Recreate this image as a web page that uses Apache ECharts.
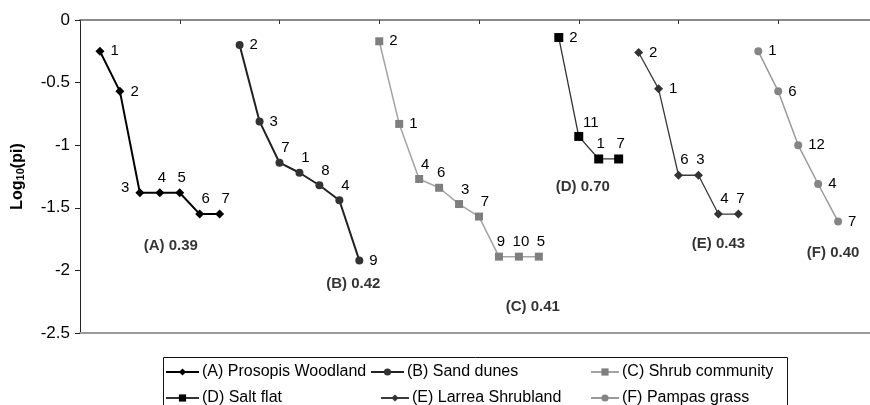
<!DOCTYPE html>
<html>
<head>
<meta charset="utf-8">
<script src="https://cdn.jsdelivr.net/npm/echarts@6/dist/echarts.min.js"></script>
<style>html,body{margin:0;padding:0;background:#fff}#c{width:870px;height:405px}</style>
</head>
<body>
<div id="c"></div>
<script>
// ---- data ----
const seriesNames = ['(A) Prosopis Woodland', '(B) Sand dunes', '(C) Shrub community', '(D) Salt flat', '(E) Larrea Shrubland', '(F) Pampas grass'];
const speciesA = ['1','2','3','4','5','6','7'];
const valuesA  = [-0.25, -0.57, -1.38, -1.38, -1.38, -1.55, -1.55];
const speciesB = ['2','3','7','1','8','4','9'];
const valuesB  = [-0.20, -0.81, -1.14, -1.22, -1.32, -1.44, -1.92];
const speciesC = ['2','1','4','6','3','7','9','10','5'];
const valuesC  = [-0.17, -0.83, -1.27, -1.34, -1.47, -1.57, -1.89, -1.89, -1.89];
const speciesD = ['2','11','1','7'];
const valuesD  = [-0.14, -0.93, -1.11, -1.11];
const speciesE = ['2','1','6','3','4','7'];
const valuesE  = [-0.26, -0.55, -1.24, -1.24, -1.55, -1.55];
const speciesF = ['1','6','12','4','7'];
const valuesF  = [-0.25, -0.57, -1.00, -1.31, -1.61];
const evenness = ['0.39', '0.42', '0.41', '0.70', '0.43', '0.40'];
const groupCodes = ['A', 'B', 'C', 'D', 'E', 'F'];
const yTicks = [0, -0.5, -1, -1.5, -2, -2.5];

// ---- layout / style config ----
const labelPlacement = [
  ['r','r','l','t','t','tr','tr'],
  ['r','r','tr','tr','tr','tr','r'],
  ['r','r','tr','t','tr','tr','t','t','t'],
  ['r','trr','t','t'],
  ['r','r','tr','t','tr','t'],
  ['r','r','r','r','r']
];
// annotation anchors in data space [rank, log10(pi)]
const annotAnchor = [[4.55,-1.80],[13.7,-2.11],[22.7,-2.29],[25.2,-1.33],[32.0,-1.79],[37.75,-1.86]];
const styles = [
  {line:'#000000', lw:2,   sym:'diamond', sc:'#000000', ss:9},
  {line:'#222222', lw:2,   sym:'circle',  sc:'#333333', ss:8},
  {line:'#a3a3a3', lw:1.5, sym:'rect',    sc:'#7f7f7f', ss:8},
  {line:'#333333', lw:1.3, sym:'rect',    sc:'#000000', ss:9},
  {line:'#3a3a3a', lw:1.3, sym:'diamond', sc:'#333333', ss:9},
  {line:'#9a9a9a', lw:1.5, sym:'circle',  sc:'#858585', ss:8}
];

const speciesAll = [speciesA, speciesB, speciesC, speciesD, speciesE, speciesF];
const valuesAll = [valuesA, valuesB, valuesC, valuesD, valuesE, valuesF];

const FONT = '"Liberation Sans", Arial, sans-serif';

function labelFor(code) {
  const base = {show:true, fontSize:15, fontFamily:FONT, color:'#000'};
  if (code === 'r') return Object.assign(base, {position:'right', distance:6});
  if (code === 't') return Object.assign(base, {position:'top', distance:3, offset:[2,0]});
  if (code === 'tr') return Object.assign(base, {position:'top', distance:3, offset:[6,0]});
  if (code === 'trr') return Object.assign(base, {position:'top', distance:2, offset:[12,0]});
  if (code === 'l') return Object.assign(base, {position:'left', distance:6, offset:[0,-5]});
  return base;
}

const series = [];
let rank = 1;
valuesAll.forEach((vals, si) => {
  const st = styles[si];
  const data = vals.map((v, i) => ({
    value: [rank + i, v],
    name: speciesAll[si][i],
    label: labelFor(labelPlacement[si][i])
  }));
  rank += vals.length;
  series.push({
    name: seriesNames[si],
    type: 'line',
    xAxisIndex: 0,
    data: data,
    symbol: st.sym,
    symbolSize: st.ss,
    showAllSymbol: true,
    lineStyle: {color: st.line, width: st.lw},
    itemStyle: {color: st.sc},
    label: {formatter: p => p.name},
    emphasis: {disabled: true},
    animation: false,
    z: 3
  });
});

// evenness annotations
series.push({
  name: 'annot',
  type: 'scatter',
  xAxisIndex: 0,
  symbolSize: 0,
  silent: true,
  animation: false,
  data: annotAnchor.map((a, i) => ({value: a, name: '(' + groupCodes[i] + ') ' + evenness[i]})),
  label: {show: true, position: 'inside', formatter: p => p.name, fontSize: 15, fontWeight: 'bold', fontFamily: FONT, color: '#000'}
});

const legendPos = [
  {left:165, top:364, w:33},
  {left:370, top:364, w:33},
  {left:590, top:364, w:28},
  {left:165, top:390, w:33},
  {left:380, top:390, w:28},
  {left:590, top:390, w:28}
];

const option = {
  backgroundColor: '#fff',
  animation: false,
  grid: {left: 80, top: 20, right: -8, bottom: 72, containLabel: false, outerBoundsMode: 'none'},
  xAxis: [
    {type:'value', position:'top', min:0, max:40, interval:5,
     axisLine:{show:true, onZero:false, lineStyle:{color:'#8a8a8a', width:2}},
     axisTick:{show:true, inside:true, length:4, lineStyle:{color:'#333', width:1}},
     axisLabel:{show:false}, splitLine:{show:false}},
    {type:'value', position:'bottom', min:0, max:40,
     axisLine:{show:true, onZero:false, lineStyle:{color:'#9a9a9a', width:2}},
     axisTick:{show:false}, axisLabel:{show:false}, splitLine:{show:false}}
  ],
  yAxis: {
    type:'value', min:-2.5, max:0, interval:0.5,
    axisLine:{show:true, onZero:false, lineStyle:{color:'#222', width:1}},
    axisTick:{show:true, inside:false, length:5, lineStyle:{color:'#222'}},
    axisLabel:{fontSize:17, fontFamily:FONT, color:'#000', margin:10,
      formatter: v => { const t = yTicks.find(x => Math.abs(x - v) < 1e-9); return t === undefined ? '' : String(t); }},
    splitLine:{show:false},
    name:'{b|Log}{s|10}{b|(pi)}',
    nameLocation:'middle', nameGap:54,
    nameTextStyle:{rich:{
      b:{fontSize:16, fontWeight:'bold', fontFamily:FONT, color:'#000'},
      s:{fontSize:11, fontWeight:'bold', fontFamily:FONT, color:'#000', padding:[6,0,0,0]}
    }}
  },
  legend: legendPos.map((p, i) => ({
    data:[seriesNames[i]], left:p.left, top:p.top, padding:0, itemWidth:p.w, itemHeight:9,
    selectedMode:false, itemGap:0,
    textStyle:{fontSize:16, fontFamily:FONT, color:'#000', padding:[0,0,0,-2]}
  })),
  graphic: [{type:'rect', shape:{x:163.5, y:357.5, width:624, height:60}, style:{fill:'none', stroke:'#111', lineWidth:1}, silent:true}],
  series: series
};

echarts.init(document.getElementById('c'), null, {renderer:'canvas'}).setOption(option);
</script>
</body>
</html>
